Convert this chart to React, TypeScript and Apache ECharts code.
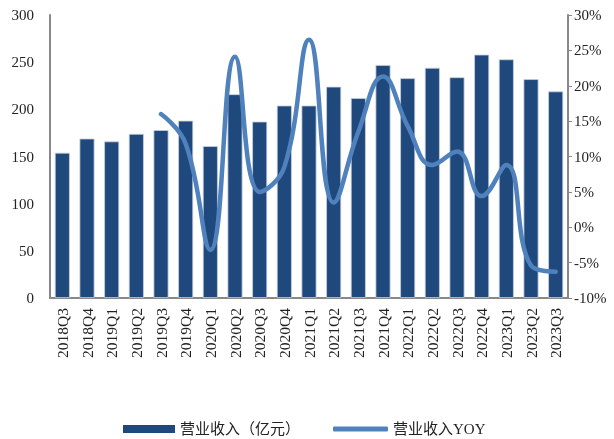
import React, { useEffect, useRef } from "react";
import * as echarts from "echarts";

const categories = [
  "2018Q3", "2018Q4", "2019Q1", "2019Q2", "2019Q3", "2019Q4", "2020Q1",
  "2020Q2", "2020Q3", "2020Q4", "2021Q1", "2021Q2", "2021Q3", "2021Q4",
  "2022Q1", "2022Q2", "2022Q3", "2022Q4", "2023Q1", "2023Q2", "2023Q3",
];
const revenue = [
  154, 169, 166, 174, 178, 188, 161, 216, 187, 204, 204, 224, 212, 247,
  233, 244, 234, 258, 253, 232, 219,
];
const yoy = [
  null, null, null, null, 16.0, 11.8, -3.2, 24.1, 5.0, 8.5, 26.5, 3.5,
  13.5, 21.3, 14.3, 8.8, 10.7, 4.4, 8.8, -5.4, -6.3,
];
const leftTicks = { min: 0, max: 300, interval: 50 };
const rightTicks = { min: -10, max: 30, interval: 5 };
const barName = "营业收入（亿元）";
const lineName = "营业收入YOY";

const FONT = "'Liberation Serif', 'Times New Roman', 'Noto Sans CJK SC', serif";

export default function App() {
  const ref = useRef<HTMLDivElement>(null);
  useEffect(() => {
    if (!ref.current) return;
    const chart = echarts.init(ref.current, null, { renderer: "svg" });
    const legendText = { fontFamily: FONT, fontSize: 15, color: "#222", lineHeight: 18 };
    chart.setOption({
      animation: false,
      textStyle: { fontFamily: FONT },
      grid: { left: 50, right: 46, top: 15, bottom: 141 },
      legend: [
        {
          data: [{ name: barName, icon: "rect", itemStyle: { borderWidth: 0 } }],
          left: 123,
          top: 420,
          padding: 0,
          itemWidth: 52,
          itemHeight: 8,
          itemGap: 10,
          textStyle: legendText,
        },
        {
          data: [{ name: lineName, icon: "roundRect" }],
          left: 333,
          top: 420,
          padding: 0,
          itemWidth: 55,
          itemHeight: 5,
          textStyle: legendText,
        },
      ],
      xAxis: {
        type: "category",
        data: categories,
        axisLine: { lineStyle: { color: "#888", width: 2 } },
        axisTick: { show: false },
        axisLabel: {
          rotate: 90,
          interval: 0,
          fontSize: 15.5,
          color: "#222",
          fontFamily: FONT,
          margin: 10,
        },
      },
      yAxis: [
        {
          type: "value",
          ...leftTicks,
          splitLine: { show: false },
          axisLine: { show: true, lineStyle: { color: "#888", width: 2 } },
          axisTick: { show: false },
          axisLabel: { fontSize: 15, color: "#222", fontFamily: FONT, margin: 16 },
        },
        {
          type: "value",
          ...rightTicks,
          position: "right",
          splitLine: { show: false },
          axisLine: { show: true, lineStyle: { color: "#888", width: 2 } },
          axisTick: { show: true, length: 4, lineStyle: { color: "#888" } },
          axisLabel: {
            fontSize: 15,
            color: "#222",
            fontFamily: FONT,
            formatter: "{value}%",
            margin: 6,
          },
        },
      ],
      series: [
        {
          name: barName,
          type: "bar",
          data: revenue,
          barWidth: 15,
          itemStyle: { color: "#1F497D", borderColor: "#c8d0dc", borderWidth: 0.8 },
        },
        {
          name: lineName,
          type: "line",
          yAxisIndex: 1,
          data: yoy,
          smooth: 0.45,
          symbol: "none",
          connectNulls: false,
          lineStyle: { color: "#4F81BD", width: 4.5, cap: "round" },
          itemStyle: { color: "#4F81BD" },
        },
      ],
    });
    return () => chart.dispose();
  }, []);
  return (
    <div
      ref={ref}
      style={{ position: "fixed", left: 0, top: 0, width: 614, height: 439 }}
    />
  );
}
